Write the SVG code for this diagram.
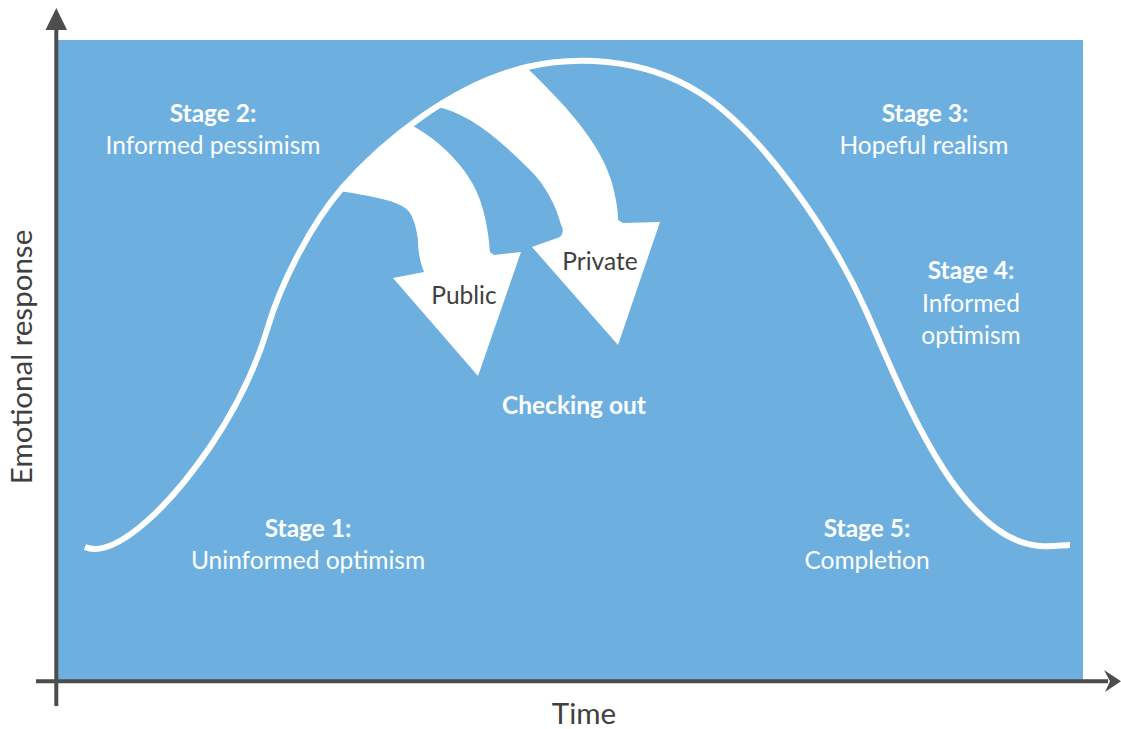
<svg xmlns="http://www.w3.org/2000/svg" width="1121" height="729" viewBox="0 0 1121 729">
<style>
.lbl{font-family:Lato,"Open Sans","Liberation Sans",sans-serif;font-size:24.5px;fill:#ffffff;text-anchor:middle}
.b{font-weight:bold}
.dark{fill:#404040}
.ax{font-family:Lato,"Open Sans","Liberation Sans",sans-serif;font-size:29.5px;fill:#404040;text-anchor:middle}
.arrow{fill:#ffffff}
</style>
<rect x="0" y="0" width="1121" height="729" fill="#ffffff"/>
<rect id="plot" x="56" y="40" width="1027" height="641" fill="#6DB0DF"/>
<g id="axes" fill="#4D4D4D" stroke="#4D4D4D">
<line x1="56.3" y1="706" x2="56.3" y2="28" stroke-width="4"/>
<polygon points="56.3,8 45.5,30 67,30" stroke="none"/>
<line x1="36" y1="681.3" x2="1108" y2="681.3" stroke-width="4"/>
<polygon points="1121,681.3 1104,670 1110,681.3 1105,692" stroke="none"/>
</g>
<g id="connectors">
<path id="arrow-public" class="arrow" d="M411,125 C440,140 470,170 480,200 C487,220 489,240 490,252 L494,255 L521,252 L478,376 L393,278 L424,272 C419,260 418,248 418,240 C416,225 412,212 405,208 C395,200 370,196 340,191 Q375,152 411,125 Z"/>
<path id="arrow-private" class="arrow" d="M527,68 C560,100 600,140 612,183 C616,198 618,210 618,220 L623,223 L660,222 L618,345 L532,247 L560,237 C564,233 563,228 561,225 C556,205 545,185 530,170 C510,150 490,132 470,120 C455,112 445,108 433,106 Q475,80 527,68 Z"/>
<path id="curve" d="M85,547 C110,558 160,520 210,447 C235,410 255,370 267,330 C280,285 310,225 343,187 C380,145 450,85 527,67 C570,57 640,55 700,93 C760,131 830,230 867,313 C905,400 960,540 1040,546 C1055,547 1062,545 1070,545" fill="none" stroke="#ffffff" stroke-width="6"/>
</g>
<g id="stage1"><text class="lbl b" x="308" y="537">Stage 1:</text><text class="lbl" x="308" y="569">Uninformed optimism</text></g>
<g id="stage2"><text class="lbl b" x="213" y="122">Stage 2:</text><text class="lbl" x="213" y="154">Informed pessimism</text></g>
<g id="stage3"><text class="lbl b" x="925" y="122">Stage 3:</text><text class="lbl" x="924" y="154">Hopeful realism</text></g>
<g id="stage4"><text class="lbl b" x="971" y="279">Stage 4:</text><text class="lbl" x="971" y="312">Informed</text><text class="lbl" x="971" y="344">optimism</text></g>
<g id="stage5"><text class="lbl b" x="867" y="537">Stage 5:</text><text class="lbl" x="867" y="569">Completion</text></g>
<g id="checking"><text class="lbl b" x="574" y="414">Checking out</text></g>
<g id="public"><text class="lbl dark" x="464" y="304">Public</text></g>
<g id="private"><text class="lbl dark" x="600" y="270">Private</text></g>
<text class="ax" x="584" y="724">Time</text>
<text class="ax" transform="translate(32,357) rotate(-90)">Emotional response</text>
</svg>
